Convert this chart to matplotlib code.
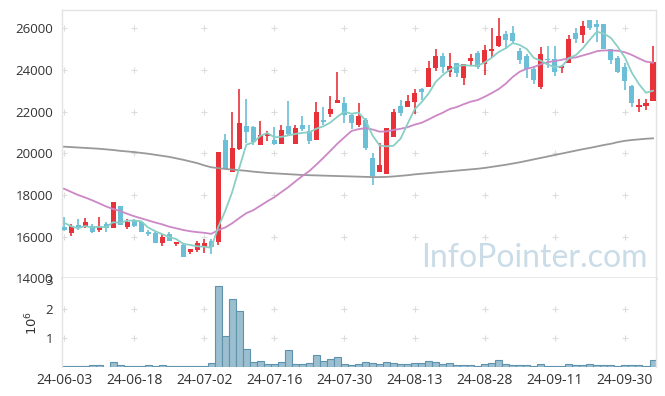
import matplotlib
matplotlib.use("Agg")
import matplotlib.pyplot as plt
import numpy as np

plt.rcParams['font.family'] = ['Open Sans', 'DejaVu Sans']

# daily candles, 2024-06-03 .. 2024-10-08 (trading days only)
opens = [16470, 16190, 16560, 16480, 16510, 16340, 16600, 16400, 17470, 16480,
         16790, 16700, 16230, 16180, 15710, 16130, 15650, 15590, 15270, 15360,
         15520, 15800, 15750, 20640, 19120, 20210, 21310, 21260, 20420, 20850,
         20640, 20460, 21310, 20460, 21360, 21090, 20650, 21580, 21890, 22420,
         22420, 21840, 21380, 21600, 19780, 19090, 19020, 20780, 22270, 22240,
         22480, 23090, 23200, 24080, 24690, 23920, 24320, 23600, 24450, 24830,
         24270, 24925, 25170, 25730, 25760, 24900, 24670, 24050, 23200, 24510,
         24530, 24110, 24350, 25790, 25680, 26380, 26210, 26210, 24990, 24560,
         24160, 23230, 22240, 22290, 22530]
highs = [16930, 16600, 16850, 16880, 16620, 16930, 16720, 17650, 17480, 16850,
         16850, 16710, 16340, 16200, 16120, 16200, 15750, 15680, 15420, 15780,
         15900, 15900, 20070, 20930, 21980, 23070, 22620, 21300, 21530, 21090,
         21280, 21350, 22500, 21380, 21780, 21350, 22450, 22240, 22750, 23890,
         22720, 21900, 22400, 21700, 20030, 20500, 21220, 22130, 22560, 22820,
         23070, 23150, 24450, 24990, 24800, 24800, 24330, 24270, 24750, 24930,
         25210, 26010, 26490, 25890, 26110, 25050, 24790, 24200, 25090, 25150,
         25150, 24230, 25680, 26000, 26350, 26400, 26400, 26220, 25000, 24660,
         24350, 23300, 22590, 22590, 25150]
lows = [16280, 16050, 16320, 16430, 16190, 16240, 16240, 16400, 16580, 16380,
        16480, 16240, 16030, 15710, 15550, 15780, 15550, 15040, 15160, 15270,
        15200, 15170, 15600, 19260, 19090, 20180, 20510, 20400, 20420, 20580,
        20410, 20460, 20830, 20460, 21060, 20450, 20650, 21350, 21760, 22420,
        21440, 21180, 21280, 20160, 18480, 19090, 19020, 20780, 21790, 22240,
        21870, 22560, 23200, 23970, 23840, 23680, 23680, 23280, 24240, 24060,
        23760, 24640, 25090, 25010, 25280, 24290, 23600, 23330, 23070, 24080,
        23710, 23840, 24350, 25310, 25280, 25900, 25330, 25010, 24290, 23840,
        23040, 22210, 22000, 22080, 22530]
closes = [16340, 16500, 16450, 16710, 16200, 16500, 16400, 17650, 16580, 16710,
          16510, 16240, 16150, 15710, 16000, 15810, 15750, 15040, 15400, 15680,
          15710, 15490, 20070, 19260, 20260, 21470, 21040, 20550, 20870, 20940,
          20460, 21120, 20930, 21220, 21180, 20610, 21980, 21510, 22130, 22560,
          21830, 21470, 21800, 20270, 18930, 19440, 21220, 21980, 21950, 22510,
          22900, 22940, 24080, 24690, 24160, 24190, 23840, 24270, 24570, 24160,
          24960, 25005, 25650, 25450, 25410, 24490, 24030, 23520, 24770, 24480,
          23920, 24190, 25490, 25500, 26130, 26000, 26080, 25010, 24480, 23920,
          23490, 22400, 22320, 22420, 24400]

# moving averages as drawn (5, 20, 120 day)
ma5 = [16670, 16500, 16400, 16510, 16440, 16472, 16452, 16692, 16666, 16768,
       16770, 16738, 16438, 16264, 16122, 15982, 15884, 15662, 15600, 15536,
       15516, 15464, 16470, 17242, 18158, 19310, 20420, 20516, 20838, 20974,
       20772, 20788, 20864, 20934, 20982, 21012, 21184, 21300, 21482, 21758,
       22002, 21900, 21958, 21586, 20860, 20382, 20332, 20368, 20704, 21420,
       22112, 22456, 22876, 23424, 23754, 24012, 24192, 24230, 24206, 24206,
       24360, 24593, 24869, 25045, 25295, 25201, 25006, 24580, 24444, 24258,
       24144, 24176, 24570, 24716, 25046, 25462, 25840, 25744, 25540, 25098,
       24596, 23860, 23322, 22910, 23006]
ma20 = [18300, 18150, 18000, 17880, 17750, 17600, 17450, 17330, 17230, 17100,
        16980, 16880, 16780, 16680, 16590, 16480, 16400, 16320, 16260, 16216,
        16185, 16135, 16316, 16443, 16646, 16895, 17127, 17272, 17486, 17698,
        17895, 18139, 18378, 18654, 18913, 19153, 19464, 19788, 20124, 20468,
        20774, 21073, 21160, 21210, 21144, 21042, 21051, 21123, 21177, 21255,
        21377, 21468, 21626, 21799, 21948, 22127, 22220, 22358, 22480, 22560,
        22717, 22893, 23086, 23345, 23669, 23921, 24062, 24139, 24280, 24378,
        24429, 24492, 24562, 24603, 24701, 24792, 24904, 24941, 24936, 24924,
        24851, 24721, 24555, 24403, 24353]
ma120 = [20320, 20300, 20280, 20260, 20240, 20220, 20190, 20160, 20120, 20090,
         20060, 20020, 19980, 19930, 19880, 19830, 19760, 19690, 19610, 19530,
         19420, 19330, 19290, 19250, 19220, 19190, 19160, 19120, 19090, 19060,
         19040, 19020, 19000, 18980, 18960, 18950, 18940, 18930, 18920, 18910,
         18900, 18890, 18880, 18870, 18860, 18860, 18870, 18890, 18920, 18950,
         18990, 19020, 19050, 19080, 19110, 19140, 19170, 19200, 19230, 19260,
         19300, 19350, 19400, 19450, 19510, 19570, 19640, 19710, 19780, 19850,
         19920, 19990, 20060, 20130, 20200, 20260, 20330, 20400, 20460, 20540,
         20600, 20640, 20670, 20700, 20720]

# volume, millions of shares
volume = [0.03, 0.03, 0.03, 0.03, 0.07, 0.07, 0.01, 0.17, 0.07, 0.03,
          0.03, 0.03, 0.07, 0.03, 0.07, 0.03, 0.03, 0.06, 0.03, 0.03,
          0.03, 0.14, 2.79, 1.07, 2.34, 1.93, 0.62, 0.18, 0.22, 0.10,
          0.10, 0.17, 0.59, 0.10, 0.10, 0.14, 0.41, 0.22, 0.28, 0.34,
          0.10, 0.07, 0.10, 0.18, 0.14, 0.10, 0.18, 0.14, 0.10, 0.10,
          0.14, 0.14, 0.22, 0.18, 0.10, 0.14, 0.07, 0.07, 0.07, 0.03,
          0.10, 0.14, 0.25, 0.10, 0.07, 0.07, 0.07, 0.03, 0.10, 0.03,
          0.03, 0.03, 0.10, 0.07, 0.07, 0.10, 0.07, 0.07, 0.07, 0.03,
          0.07, 0.07, 0.07, 0.03, 0.25]

tick_pos = [0, 10, 20, 30, 40, 50, 60, 70, 80]
tick_labels = ['24-06-03', '24-06-18', '24-07-02', '24-07-16', '24-07-30',
               '24-08-13', '24-08-28', '24-09-11', '24-09-30']
price_ticks = [14000, 16000, 18000, 20000, 22000, 24000, 26000]

UP = '#e8323a'
DOWN = '#6bbfd7'
TXT = '#333333'
EDGE = '#e3e3e3'

fig = plt.figure(figsize=(6.65, 3.96), dpi=100)
ax = fig.add_axes([0.0928, 0.2972, 0.8937, 0.6775])
axv = fig.add_axes([0.0928, 0.0725, 0.8937, 0.2247], sharex=ax)

x = np.arange(len(closes))
o = np.array(opens)
c = np.array(closes)
up = c >= o
colors = np.where(up, UP, DOWN)
body_lo = np.minimum(o, c)
body_h = np.maximum(np.abs(c - o), 40)

ax.vlines(x, lows, highs, colors=colors, linewidth=1.2, zorder=2)
ax.bar(x, body_h, bottom=body_lo, width=0.72, color=colors, linewidth=0, zorder=3)

ax.plot(x, ma120, color='#999999', lw=1.3, zorder=4)
ax.plot(x, ma20, color='#cc88c6', lw=1.3, zorder=4)
ax.plot(x, ma5, color='#8acfc5', lw=1.3, zorder=4)

# light "+" grid marks
gx, gy = np.meshgrid(tick_pos, price_ticks[1:])
ax.plot(gx.ravel(), gy.ravel(), '+', color='#dcdcdc', ms=5, mew=0.8, zorder=1)

ax.set_xlim(-0.33, 84.43)
ax.set_ylim(14000, 26880)
ax.set_yticks(price_ticks)
ax.tick_params(axis='y', length=0, pad=6, labelsize=9.5, labelcolor=TXT)
ax.tick_params(axis='x', length=0, labelbottom=False)
for s in ax.spines.values():
    s.set_color(EDGE)
    s.set_linewidth(1)
ax.spines['bottom'].set_linewidth(1.8)

ax.text(0.9865, 0.042, 'InfoPointer.com', transform=ax.transAxes,
        ha='right', va='baseline', fontsize=23, family='Lato',
        color='#c9dce7', zorder=0)

axv.bar(x, volume, width=1.0, color='#9cbfd0', edgecolor='#5f93ad',
        linewidth=0.8, zorder=2)
vx, vy = np.meshgrid(tick_pos, [1, 2])
axv.plot(vx.ravel(), vy.ravel(), '+', color='#dcdcdc', ms=5, mew=0.8, zorder=1)
axv.set_ylim(0, 3.07)
axv.set_yticks([1, 2, 3])
axv.set_xticks(tick_pos)
axv.set_xticklabels(tick_labels)
axv.tick_params(length=0, labelsize=9.5, labelcolor=TXT)
axv.tick_params(axis='x', pad=4, labelsize=10)
axv.tick_params(axis='y', pad=6)
axv.set_ylabel('$10^6$', color=TXT, fontsize=9.5, labelpad=4)
for s in axv.spines.values():
    s.set_color(EDGE)
    s.set_linewidth(1)
axv.spines['bottom'].set_visible(False)
axv.spines['top'].set_visible(False)

fig.savefig('out.png', dpi=100)
